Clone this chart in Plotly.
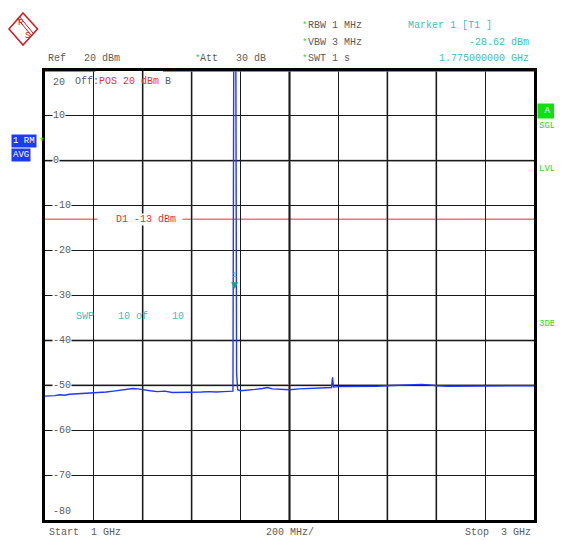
import plotly.graph_objects as go

# trace (GHz, dBm); the carrier runs off the top of the screen
freq_ghz = [
    1.000, 1.020, 1.040, 1.060, 1.080, 1.100, 1.130, 1.160, 1.190, 1.220,
    1.250, 1.280, 1.310, 1.340, 1.360, 1.380, 1.400, 1.430, 1.460, 1.490,
    1.520, 1.550, 1.580, 1.610, 1.640, 1.670, 1.700, 1.730, 1.760, 1.7687,
    1.7725, 1.7800, 1.7837, 1.788, 1.800, 1.830, 1.860, 1.890, 1.910,
    1.930, 1.960, 2.000, 2.040, 2.080, 2.120, 2.150, 2.172, 2.176, 2.180,
    2.200, 2.240, 2.280, 2.320, 2.360, 2.400, 2.440, 2.480, 2.510, 2.540,
    2.570, 2.600, 2.650, 2.700, 2.750, 2.800, 2.850, 2.900, 2.950, 3.000,
]
level_dbm = [
    -52.4, -52.4, -52.3, -52.1, -52.2, -52.0, -51.9, -51.8, -51.8, -51.6,
    -51.5, -51.3, -51.1, -50.9, -50.7, -50.8, -51.0, -51.2, -51.4, -51.3,
    -51.6, -51.6, -51.5, -51.6, -51.5, -51.4, -51.5, -51.4, -51.3, -51.3,
    35.0, 35.0, -47.5, -51.0, -51.2, -51.1, -50.9, -50.7, -50.5,
    -50.8, -50.9, -51.0, -50.8, -50.7, -50.6, -50.6, -50.5, -48.2, -50.4,
    -50.3, -50.3, -50.2, -50.2, -50.2, -50.1, -50.0, -49.9, -49.8, -49.8,
    -49.9, -50.1, -50.2, -50.2, -50.2, -50.2, -50.2, -50.1, -50.1, -50.1,
]

marker_freq_ghz = 1.775
marker_level_dbm = -28.62
display_line_dbm = -13
ref_level_dbm = 20
y_ticks = [20, 10, 0, -10, -20, -30, -40, -50, -60, -70, -80]
y_tick_labels = ["20", "10", "0", "-10", "-20", "-30", "-40", "-50", "-60", "-70", "-80"]

# grid lines that the screen renders softer (grey, wider)
soft_x_grid = [1.4, 1.6, 2.4, 2.6]
soft_y_grid = [0, -40, -50]

# page is 562x540, the html body adds an 8px margin
PAGE_W, PAGE_H, OFF = 562, 540, 8
PL, PT, PR, PB = 45, 71, 534, 520
PW, PH = PR - PL, PB - PT

MONO = "Liberation Mono, DejaVu Sans Mono, monospace"
GRAY = "#5c5c5c"
CYAN = "#3cc0c0"
GREEN = "#14dc14"
RED = "#e83030"
TRACE = "#2038ff"
BOXBLUE = "#1c3cf0"


def px(x):
    return (x - PL) / PW


def py(y):
    return (PB - y) / PH


def nb(s):
    return s.replace(" ", "\u00a0")


annotations = []


def note(text, x, y, color=GRAY, anchor="left", size=10, **kw):
    annotations.append(dict(
        text=nb(text) if "<" not in text else text, x=px(x), y=py(y), xref="paper", yref="paper",
        xanchor=anchor, yanchor="middle", showarrow=False,
        font=dict(family=MONO, size=size, color=color), **kw,
    ))


fig = go.Figure()
fig.add_trace(go.Scatter(
    x=freq_ghz, y=level_dbm, mode="lines",
    line=dict(color=TRACE, width=1.4), hoverinfo="skip",
))

# header
note("Ref   20 dBm", 46, 58)
note("*", 193, 59, color=GREEN, size=9)
note("Att   30 dB", 198, 58)
for row, txt in zip([25, 42, 58], ["RBW 1 MHz", "VBW 3 MHz", "SWT 1 s"]):
    note("*", 300, row + 1, color=GREEN, size=9)
    note(txt, 305.5, row)
note("Marker 1 [T1 ]", 406, 25, color=CYAN)
note(f"{marker_level_dbm:.2f} dBm", 531, 42, color=CYAN, anchor="right")
note(f"{marker_freq_ghz:.9f} GHz", 531, 58, color=CYAN, anchor="right")

# side boxes
note("1 RM", 11, 140.5, color="white", size=9, bgcolor=BOXBLUE, borderpad=1)
note("*", 37, 142, color=GREEN, size=10)
note("AVG", 11, 154.5, color="white", size=9, bgcolor=BOXBLUE, borderpad=1)
note("A", 536.5, 111.5, color="white", size=9, bgcolor="#10e010", width=17, height=12)
note("SGL", 537, 126, color=GREEN, size=9)
note("LVL", 537, 169, color=GREEN, size=9)
note("3DB", 537, 324, color=GREEN, size=9)

# in-plot texts
note("Off:<span style='color:%s'>POS&nbsp;20&nbsp;dBm</span>&nbsp;B" % RED, 72.5, 81)
note("SWP    10 of    10", 74, 316, color=CYAN)

# footer
note("Start  1 GHz", 47, 532)
note("200 MHz/", 289.5, 532, anchor="center")
note("Stop  3 GHz", 463, 532)

# y tick labels sit inside the grid
for v, lab in zip(y_ticks, y_tick_labels):
    shift = -11 if v == y_ticks[0] else (9 if v == y_ticks[-1] else 0)
    annotations.append(dict(
        text=lab, x=px(51.5), y=v, xref="paper", yref="y", xanchor="left", yanchor="middle",
        yshift=shift, showarrow=False, bgcolor="white", borderpad=0,
        font=dict(family=MONO, size=10, color=GRAY),
    ))

# display line label
annotations.append(dict(
    text=nb("   D1 -13 dBm "), x=px(97), y=display_line_dbm, xref="paper", yref="y",
    xanchor="left", yanchor="middle", showarrow=False, bgcolor="white", borderpad=0,
    font=dict(family=MONO, size=10, color=RED),
))

# marker 1
annotations.append(dict(
    text="▼", x=marker_freq_ghz, y=marker_level_dbm, xref="x", yref="y",
    xanchor="center", yanchor="bottom", yshift=-3, showarrow=False,
    font=dict(family="DejaVu Sans", size=9, color="#14a08c"),
))
annotations.append(dict(
    text="1", x=marker_freq_ghz, y=marker_level_dbm, xref="x", yref="y",
    xanchor="center", yanchor="middle", yshift=15, showarrow=False,
    font=dict(family=MONO, size=8, color=CYAN),
))

shapes = [
    dict(type="line", xref="paper", yref="y", x0=0, x1=px(95), y0=ref_level_dbm, y1=ref_level_dbm,
         line=dict(color=RED, width=1.5)),
    dict(type="line", xref="paper", yref="y", x0=px(163), x1=1, y0=ref_level_dbm, y1=ref_level_dbm,
         line=dict(color=RED, width=1.5)),
    dict(type="line", xref="paper", yref="y", x0=0, x1=1, y0=display_line_dbm, y1=display_line_dbm,
         line=dict(color=RED, width=1), layer="between"),
    dict(type="line", xref="x", yref="paper", x0=2.0, x1=2.0, y0=0, y1=1,
         line=dict(color="black", width=2), layer="between"),
]
for gx in soft_x_grid:
    shapes.append(dict(type="line", xref="x", yref="paper", x0=gx, x1=gx, y0=0, y1=1,
                       line=dict(color="#7a7a7a", width=2), layer="between"))
for gy in soft_y_grid:
    shapes.append(dict(type="line", xref="paper", yref="y", x0=0, x1=1, y0=gy, y1=gy,
                       line=dict(color="#7a7a7a", width=2), layer="between"))


# R&S logo
def path(pts, close=True):
    s = "M " + " L ".join(f"{px(x):.5f},{py(y):.5f}" for x, y in pts)
    return s + (" Z" if close else "")


shapes.append(dict(type="path", xref="paper", yref="paper",
                   path=path([(23, 13), (37.5, 29), (23, 45), (9, 29)]),
                   line=dict(color="#cc2020", width=1.6)))
for off in (0, 2):
    shapes.append(dict(type="path", xref="paper", yref="paper",
                       path=path([(17 + off, 18 - off), (31 + off, 35 - off)], close=False),
                       line=dict(color="#cc2020", width=1)))
note("R", 16, 23, color="#cc2020", size=9)
note("S", 23, 36, color="#cc2020", size=9)

fig.update_layout(
    width=PAGE_W - OFF, height=PAGE_H - OFF,
    margin=dict(l=PL - OFF, r=PAGE_W - PR, t=PT - OFF, b=PAGE_H - PB, autoexpand=False),
    paper_bgcolor="white", plot_bgcolor="white",
    showlegend=False,
    xaxis=dict(range=[1, 3], dtick=0.2, showticklabels=False, ticks="",
               showgrid=True, gridcolor="#1a1a1a", gridwidth=1, zeroline=False,
               showline=True, mirror=True, linecolor="black", linewidth=2.5),
    yaxis=dict(range=[-80, 20], dtick=10, showticklabels=False, ticks="",
               showgrid=True, gridcolor="#1a1a1a", gridwidth=1, zeroline=False,
               showline=True, mirror=True, linecolor="black", linewidth=2.5),
    annotations=annotations,
    shapes=shapes,
)

fig.write_html("out.html")
